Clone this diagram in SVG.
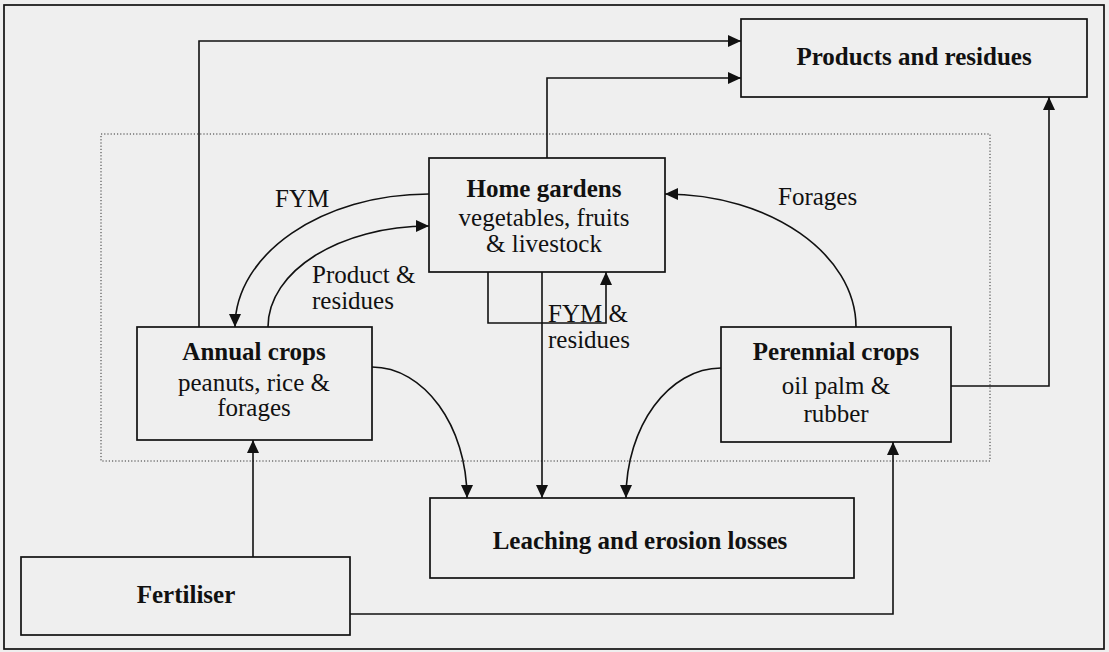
<svg xmlns="http://www.w3.org/2000/svg" width="1109" height="652" viewBox="0 0 1109 652">
<defs>
<style>
.box{fill:none;stroke:#111;stroke-width:1.7}
.ln{fill:none;stroke:#111;stroke-width:1.6}
.t{font-family:"Liberation Serif","Times New Roman",serif;font-size:25px;fill:#111}
.b{font-weight:bold}
.m{text-anchor:middle}
</style>
<marker id="ah" viewBox="0 0 13 12" refX="13" refY="6" markerWidth="13" markerHeight="12" markerUnits="userSpaceOnUse" orient="auto">
<path d="M0,0 L13,6 L0,12 Z" fill="#111"/>
</marker>
</defs>
<rect x="0" y="0" width="1109" height="652" fill="#efefef"/>
<rect x="4" y="5" width="1100" height="644" class="box" stroke-width="1.4"/>
<rect x="101" y="134" width="889" height="327" fill="none" stroke="#333" stroke-width="1" stroke-dasharray="1.2 2"/>

<g id="connectors">
<path class="ln" d="M199,327 V41 H741" marker-end="url(#ah)"/>
<path class="ln" d="M547,158 V78 H741" marker-end="url(#ah)"/>
<path class="ln" d="M951,386 H1049 V97" marker-end="url(#ah)"/>
<path class="ln" d="M350,614 H893 V442" marker-end="url(#ah)"/>
<path class="ln" d="M253,557 V440" marker-end="url(#ah)"/>
<path class="ln" d="M488,272 V323 H606 V272" marker-end="url(#ah)"/>
<path class="ln" d="M542,272 V498" marker-end="url(#ah)"/>
<path class="ln" d="M429,194 C322,194 235,254 235,327" marker-end="url(#ah)"/>
<path class="ln" d="M268,327 C268,271 340,226 429,226" marker-end="url(#ah)"/>
<path class="ln" d="M856,327 C856,254 770,194 665,194" marker-end="url(#ah)"/>
<path class="ln" d="M372,367 C424,367 467,426 467,498" marker-end="url(#ah)"/>
<path class="ln" d="M721,368 C669,368 626,426 626,498" marker-end="url(#ah)"/>
<text class="t" x="275" y="207">FYM</text>
<text class="t" x="312" y="283">Product &amp;</text>
<text class="t" x="312" y="309">residues</text>
<text class="t" x="548" y="322">FYM &amp;</text>
<text class="t" x="548" y="348">residues</text>
<text class="t" x="778" y="205">Forages</text>
</g>

<g id="products">
<rect x="741" y="19" width="346" height="78" class="box"/>
<text class="t b m" x="914" y="65">Products and residues</text>
</g>
<g id="home-gardens">
<rect x="429" y="158" width="236" height="114" class="box"/>
<text class="t b m" x="544" y="197">Home gardens</text>
<text class="t m" x="544" y="226">vegetables, fruits</text>
<text class="t m" x="544" y="252">&amp; livestock</text>
</g>
<g id="annual-crops">
<rect x="137" y="327" width="235" height="113" class="box"/>
<text class="t b m" x="254" y="360">Annual crops</text>
<text class="t m" x="254" y="391">peanuts, rice &amp;</text>
<text class="t m" x="254" y="416">forages</text>
</g>
<g id="perennial-crops">
<rect x="721" y="327" width="230" height="115" class="box"/>
<text class="t b m" x="836" y="360">Perennial crops</text>
<text class="t m" x="836" y="394">oil palm &amp;</text>
<text class="t m" x="836" y="422">rubber</text>
</g>
<g id="leaching">
<rect x="430" y="498" width="424" height="80" class="box"/>
<text class="t b m" x="640" y="549">Leaching and erosion losses</text>
</g>
<g id="fertiliser">
<rect x="21" y="557" width="329" height="78" class="box"/>
<text class="t b m" x="186" y="603">Fertiliser</text>
</g>
</svg>
